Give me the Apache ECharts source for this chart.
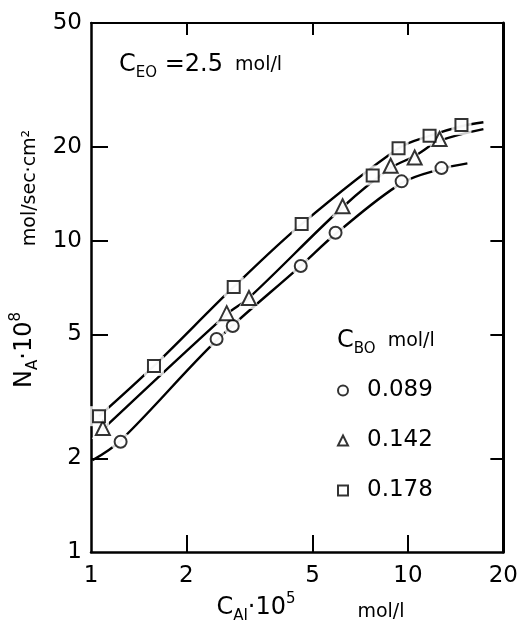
<!DOCTYPE html>
<html>
<head>
<meta charset="utf-8">
<script src="https://cdn.jsdelivr.net/npm/echarts@6/dist/echarts.min.js"></script>
<style>
html, body { margin: 0; padding: 0; background: #fff; }
#main { width: 521px; height: 625px; }
</style>
</head>
<body>
<div id="main"></div>
<script>
// tick labels
var xTickLabels = [1, 2, 5, 10, 20];
var yTickLabels = [1, 2, 5, 10, 20, 50];
var xInnerTicks = [2, 5, 10];
var yInnerTicks = [2, 5, 10, 20];

// C_BO values (legend) and their markers
var seriesNames = ['0.089', '0.142', '0.178'];
var seriesSymbols = ['circle', 'triangle', 'rect'];

// measured points [C_AI*1e5, N_A*1e8]
var pts089 = [[1.24, 2.26], [2.49, 4.83], [2.80, 5.32], [4.59, 8.29], [5.91, 10.6], [9.55, 15.5], [12.76, 17.1]];
var pts142 = [[1.09, 2.50], [2.68, 5.85], [3.15, 6.54], [6.22, 12.9], [8.82, 17.4], [10.5, 18.5], [12.58, 21.2]];
var pts178 = [[1.06, 2.73], [1.58, 3.96], [2.82, 7.10], [4.62, 11.3], [7.74, 16.2], [9.34, 19.8], [11.7, 21.7], [14.75, 23.5]];

// fitted curves
var curve089 = [[1.01, 1.97], [1.24, 2.28], [2.49, 4.78], [4.59, 8.3], [5.91, 10.5], [9.55, 15.3], [12.76, 17.0], [15.4, 17.7]];
var curve142 = [[1.09, 2.48], [2.68, 5.8], [3.15, 6.55], [6.22, 12.8], [8.82, 17.1], [10.5, 18.7], [12.58, 20.9], [17.3, 22.8]];
var curve178 = [[1.06, 2.73], [1.58, 3.96], [2.82, 7.1], [4.62, 11.3], [9.34, 19.8], [11.7, 21.7], [14.75, 23.3], [17.3, 24.0]];

var points = [pts089, pts142, pts178];
var curves = [curve089, curve142, curve178];
var symbolSizes = [12, 14, 12];

var FONT = 'DejaVu Sans';
var INK = '#000';

var myChart = echarts.init(document.getElementById('main'));

var series = [];
for (var i = 0; i < 3; i++) {
    series.push({
        type: 'line',
        name: 'fit' + i,
        data: curves[i],
        smooth: 0.35,
        symbol: 'none',
        silent: true,
        lineStyle: { color: INK, width: 2.4 },
        z: 2
    });
    series.push({
        type: 'scatter',
        name: 'halo' + i,
        data: points[i],
        symbol: seriesSymbols[i],
        symbolSize: symbolSizes[i] + 8,
        silent: true,
        itemStyle: { color: '#fff' },
        z: 3
    });
    series.push({
        type: 'scatter',
        name: seriesNames[i],
        data: points[i],
        symbol: seriesSymbols[i],
        symbolSize: symbolSizes[i],
        itemStyle: { color: '#fff', borderColor: INK, borderWidth: 2 },
        z: 4
    });
}

var richBase = {
    m: { fontSize: 24, fontFamily: FONT, fill: INK, lineHeight: 32, verticalAlign: 'middle' },
    s: { fontSize: 15, fontFamily: FONT, fill: INK, lineHeight: 15, verticalAlign: 'bottom' },
    p: { fontSize: 15, fontFamily: FONT, fill: INK, lineHeight: 15, verticalAlign: 'top' },
    u: { fontSize: 19, fontFamily: FONT, fill: INK, lineHeight: 32, verticalAlign: 'middle' }
};

option = {
    backgroundColor: '#fff',
    animation: false,
    grid: { left: 91, right: 17, top: 23, bottom: 73 },
    legend: {
        data: seriesNames,
        orient: 'vertical',
        left: 332,
        top: 374,
        itemWidth: 10,
        itemHeight: 10,
        itemGap: 27,
        selectedMode: false,
        textStyle: { fontSize: 23, fontFamily: FONT, color: INK, padding: [0, 0, 0, 14] }
    },
    xAxis: [{
        type: 'log', logBase: 10, min: 1, max: 20, position: 'bottom',
        axisLine: { lineStyle: { color: INK, width: 2.5 } },
        axisTick: { show: true, inside: true, length: 17, customValues: xInnerTicks, lineStyle: { color: INK, width: 2 } },
        axisLabel: { customValues: xTickLabels, margin: 13, fontSize: 23, fontFamily: FONT, color: INK },
        splitLine: { show: false },
        minorTick: { show: false }
    }, {
        type: 'log', logBase: 10, min: 1, max: 20, position: 'top',
        axisLine: { lineStyle: { color: INK, width: 2 } },
        axisTick: { show: true, inside: true, length: 12, customValues: xInnerTicks, lineStyle: { color: INK, width: 2 } },
        axisLabel: { show: false },
        splitLine: { show: false }
    }],
    yAxis: [{
        type: 'log', logBase: 10, min: 1, max: 50, position: 'left',
        axisLine: { lineStyle: { color: INK, width: 2.5 } },
        axisTick: { show: true, inside: true, length: 17, customValues: yInnerTicks, lineStyle: { color: INK, width: 2 } },
        axisLabel: { customValues: yTickLabels, margin: 9, fontSize: 23, fontFamily: FONT, color: INK },
        splitLine: { show: false }
    }, {
        type: 'log', logBase: 10, min: 1, max: 50, position: 'right',
        axisLine: { lineStyle: { color: INK, width: 3 } },
        axisTick: { show: true, inside: true, length: 13, customValues: yInnerTicks, lineStyle: { color: INK, width: 2 } },
        axisLabel: { show: false },
        splitLine: { show: false }
    }],
    graphic: [
        {
            type: 'text', x: 119, y: 65,
            style: { text: '{m|C}{s|EO}{m| =2.5}{u|  mol/l}', rich: richBase, align: 'left', verticalAlign: 'middle' }
        },
        {
            type: 'text', x: 30, y: 188, rotation: Math.PI / 2,
            style: { text: 'mol/sec·cm²', fontSize: 19, fontFamily: FONT, fill: INK, align: 'center', verticalAlign: 'middle' }
        },
        {
            type: 'text', x: 25, y: 350, rotation: Math.PI / 2,
            style: { text: '{m|N}{s|A}{m|·10}{p|8}', rich: richBase, align: 'center', verticalAlign: 'middle' }
        },
        {
            type: 'text', x: 256, y: 608,
            style: { text: '{m|C}{s|AI}{m|·10}{p|5}', rich: richBase, align: 'center', verticalAlign: 'middle' }
        },
        {
            type: 'text', x: 381, y: 612,
            style: { text: 'mol/l', fontSize: 19, fontFamily: FONT, fill: INK, align: 'center', verticalAlign: 'middle' }
        },
        {
            type: 'text', x: 337, y: 341,
            style: { text: '{m|C}{s|BO}{u|  mol/l}', rich: richBase, align: 'left', verticalAlign: 'middle' }
        }
    ],
    series: series
};

if (option && typeof option === 'object') {
    myChart.setOption(option, true);
}
</script>
</body>
</html>
